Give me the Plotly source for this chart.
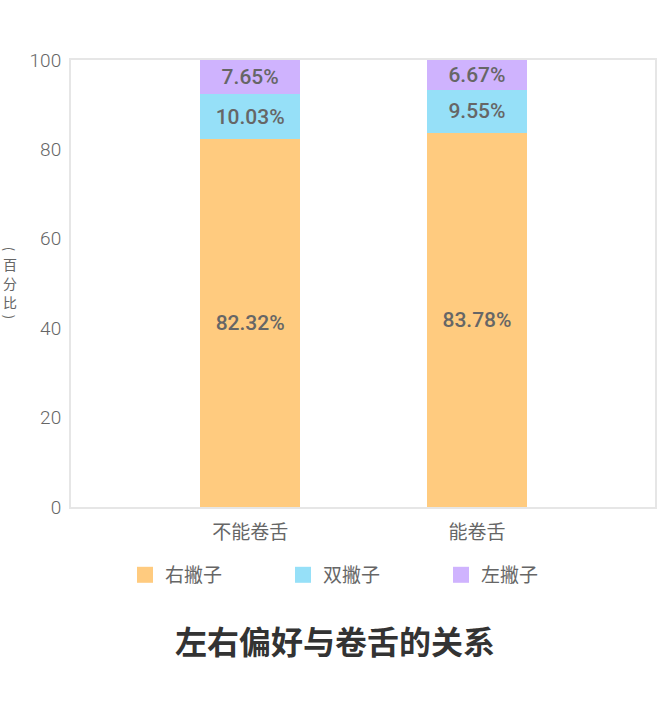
import plotly.graph_objects as go

categorias = ['不能卷舌', '能卷舌']
series = ['右撇子', '双撇子', '左撇子']
colores = ['#FFCB7F', '#96E0F8', '#CFB3FE']
valores = {
    '右撇子': [82.32, 83.78],
    '双撇子': [10.03, 9.55],
    '左撇子': [7.65, 6.67],
}
y_ticks = [0, 20, 40, 60, 80, 100]
titulo = '左右偏好与卷舌的关系'
y_titulo = ['(', '百', '分', '比', ')']
y_titulo_shift = [34, 19, 0, -19, -34]

fuente = 'Noto Sans CJK SC'
gris = '#666666'

fig = go.Figure()

for s, c in zip(series, colores):
    fig.add_trace(go.Bar(x=categorias, y=valores[s], name=s,
                         marker=dict(color=c, line=dict(width=0)),
                         width=0.44,
                         text=[f'{v:.2f}%' for v in valores[s]],
                         textposition='inside',
                         insidetextanchor='middle',
                         textangle=0,
                         constraintext='none',
                         textfont=dict(color=gris, size=21, family='Roboto', weight=500),
                         showlegend=False))
    # entrada de leyenda con cuadro grande
    fig.add_trace(go.Scatter(x=[None], y=[None], mode='markers', name=s,
                             marker=dict(symbol='square', size=20, color=c)))

fig.update_layout(
    barmode='stack',
    width=670, height=710,
    margin=dict(l=71, r=15, t=60, b=203),
    plot_bgcolor='white', paper_bgcolor='white',
    font=dict(family=fuente, color=gris, size=18),
    xaxis=dict(range=[-0.79, 1.785], showline=True, mirror=True,
               linecolor='#e6e6e6', linewidth=2, ticks='',
               tickfont=dict(size=19, color=gris), showgrid=False,
               ticklabelstandoff=7),
    yaxis=dict(range=[0, 100], tickvals=y_ticks, showline=True, mirror=True,
               linecolor='#e6e6e6', linewidth=2, showgrid=False, zeroline=False,
               tickfont=dict(size=19, color=gris, family='Roboto', weight=300),
               ticklabelstandoff=4),
    legend=dict(orientation='h', x=0.0925, xanchor='left', y=-0.152, yanchor='middle',
                entrywidth=113, entrywidthmode='pixels', traceorder='normal',
                font=dict(size=19, color=gris), itemsizing='trace'),
)

# titulo del eje y en vertical, un caracter por linea; los parentesis girados
for ch, dy in zip(y_titulo, y_titulo_shift):
    parentesis = ch in '()'
    fig.add_annotation(x=-0.104, y=0.501, xref='paper', yref='paper',
                       xanchor='center', yanchor='middle',
                       text=ch, showarrow=False, yshift=dy,
                       textangle=90 if parentesis else 0,
                       font=dict(size=13 if parentesis else 14, color=gris, family=fuente))

fig.add_annotation(x=0.452, y=-0.2975, xref='paper', yref='paper',
                   xanchor='center', yanchor='middle',
                   text=f'<b>{titulo}</b>', showarrow=False,
                   font=dict(size=32, color='#333333', family=fuente))

fig.write_html('out.html', config={'displayModeBar': False},
               post_script="document.body.style.margin='0';")
